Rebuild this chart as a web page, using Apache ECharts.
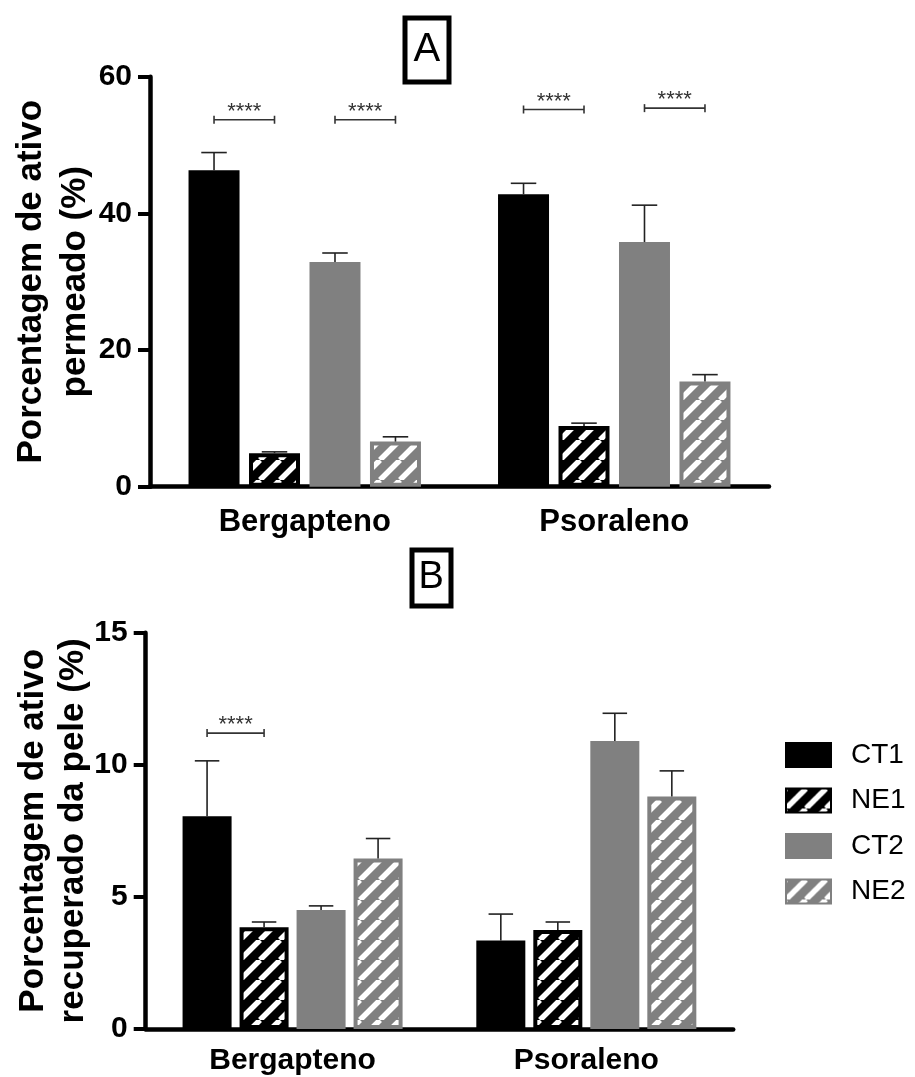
<!DOCTYPE html>
<html><head><meta charset="utf-8">
<script src="https://cdn.jsdelivr.net/npm/echarts@6/dist/echarts.min.js"></script>
<style>html,body{margin:0;padding:0;background:#fff}#c{width:915px;height:1077px}</style>
</head><body><div id="c"></div>
<script>
// ---------- data ----------
const categories = ['Bergapteno', 'Psoraleno'];
const groups = ['CT1', 'NE1', 'CT2', 'NE2'];

// Panel A: Porcentagem de ativo permeado (%)
const A_CT1 = [46.3, 42.8];
const A_NE1 = [4.9, 8.9];
const A_CT2 = [32.9, 35.8];
const A_NE2 = [6.6, 15.4];
const A_CT1_err = [2.6, 1.6];
const A_NE1_err = [0.2, 0.4];
const A_CT2_err = [1.3, 5.4];
const A_NE2_err = [0.7, 1.0];

// Panel B: Porcentagem de ativo recuperado da pele (%)
const B_CT1 = [8.05, 3.35];
const B_NE1 = [3.85, 3.75];
const B_CT2 = [4.5, 10.9];
const B_NE2 = [6.45, 8.8];
const B_CT1_err = [2.1, 1.0];
const B_NE1_err = [0.2, 0.3];
const B_CT2_err = [0.16, 1.05];
const B_NE2_err = [0.76, 0.97];

// significance brackets: [category index, from group, to group, y value]
const sigA = [[0, 0, 1, 53.7], [0, 2, 3, 53.7], [1, 0, 1, 55.2], [1, 2, 3, 55.4]];
const sigB = [[0, 0, 1, 11.2]];
const sigText = '****';

const yTitleA = 'Porcentagem de ativo\npermeado (%)';
const yTitleB = 'Porcentagem de ativo\nrecuperado da pele (%)';
const panelLabels = ['A', 'B'];

// ---------- styles ----------
const FONT = '"Liberation Sans", Arial, sans-serif';
const BLACK = '#000000', GRAY = '#808080';
const BORDER = 4;
function hatch(bg) {
  const c = document.createElement('canvas');
  c.width = 20; c.height = 20;
  const ctx = c.getContext('2d');
  ctx.fillStyle = bg; ctx.fillRect(0, 0, 20, 20);
  ctx.strokeStyle = '#ffffff'; ctx.lineWidth = 5.5;
  ctx.beginPath();
  for (let x0 = -20; x0 <= 20; x0 += 20) { ctx.moveTo(x0, 20); ctx.lineTo(x0 + 20, 0); }
  ctx.stroke();
  return { image: c, repeat: 'repeat' };
}
const fills = [BLACK, hatch(BLACK), GRAY, hatch(GRAY)];
const borders = [BLACK, BLACK, GRAY, GRAY];

const layoutA = { catGap: 0.249, barGap: 0.186 };
const layoutB = { catGap: 0.251, barGap: 0.163 };

function barOffset(band, cfg, i) {
  const avail = band * (1 - cfg.catGap);
  const bw = avail / (4 + 3 * cfg.barGap);
  return { off: -avail / 2 + i * bw * (1 + cfg.barGap) + bw / 2, bw: bw };
}

function errRender(cfg) {
  return function (params, api) {
    const cat = api.value(0), si = api.value(1), mean = api.value(2), err = api.value(3);
    const band = api.size([1, 0])[0];
    const b = barOffset(band, cfg, si);
    const p0 = api.coord([cat, mean]);
    const p1 = api.coord([cat, mean + err]);
    const x = p0[0] + b.off;
    const cap = b.bw / 2;
    const st = { stroke: '#222', lineWidth: 1.6 };
    return { type: 'group', children: [
      { type: 'line', shape: { x1: x, y1: p0[1], x2: x, y2: p1[1] }, style: st },
      { type: 'line', shape: { x1: x - cap / 2, y1: p1[1], x2: x + cap / 2, y2: p1[1] }, style: st }
    ] };
  };
}
function sigRender(cfg) {
  return function (params, api) {
    const cat = api.value(0), from = api.value(1), to = api.value(2), y = api.value(3);
    const band = api.size([1, 0])[0];
    const p = api.coord([cat, y]);
    const x1 = p[0] + barOffset(band, cfg, from).off;
    const x2 = p[0] + barOffset(band, cfg, to).off;
    const st = { stroke: '#333', lineWidth: 1.6 };
    return { type: 'group', children: [
      { type: 'line', shape: { x1: x1, y1: p[1], x2: x2, y2: p[1] }, style: st },
      { type: 'line', shape: { x1: x1, y1: p[1] - 4, x2: x1, y2: p[1] + 4 }, style: st },
      { type: 'line', shape: { x1: x2, y1: p[1] - 4, x2: x2, y2: p[1] + 4 }, style: st },
      { type: 'text', x: (x1 + x2) / 2, y: p[1] + 3, style: { text: sigText, align: 'center', verticalAlign: 'bottom', fontSize: 22, fill: '#333', fontFamily: FONT } }
    ] };
  };
}

function errData(lists) {
  const out = [];
  lists.forEach(function (l, si) { l[0].forEach(function (v, ci) { out.push([ci, si, v, l[1][ci]]); }); });
  return out;
}

const axisLine = { lineStyle: { color: '#000', width: 4.5 } };
function xAxis(gi, fs, margin) {
  return { type: 'category', gridIndex: gi, data: categories, axisLine: axisLine,
    axisTick: { alignWithLabel: true, length: 9, lineStyle: { color: '#000', width: 4 } },
    axisLabel: { fontSize: fs, fontWeight: 'bold', color: '#000', fontFamily: FONT, margin: margin } };
}
function yAxis(gi, max, interval, name, gap, lh) {
  return { type: 'value', gridIndex: gi, min: 0, max: max, interval: interval,
    name: name, nameLocation: 'middle', nameRotate: 90, nameGap: gap, nameMoveOverlap: false,
    nameTextStyle: { fontSize: 35, fontWeight: 'bold', color: '#000', fontFamily: FONT, lineHeight: lh },
    axisLine: { show: true, lineStyle: { color: '#000', width: 4.5 } },
    axisTick: { show: true, length: 12, lineStyle: { color: '#000', width: 4 } },
    splitLine: { show: false },
    axisLabel: { fontSize: 30, fontWeight: 'bold', color: '#000', fontFamily: FONT, margin: 18 } };
}

const seriesA = [A_CT1, A_NE1, A_CT2, A_NE2];
const seriesB = [B_CT1, B_NE1, B_CT2, B_NE2];
const errA = [A_CT1_err, A_NE1_err, A_CT2_err, A_NE2_err];
const errB = [B_CT1_err, B_NE1_err, B_CT2_err, B_NE2_err];

const series = [];
[[seriesA, 0, layoutA], [seriesB, 1, layoutB]].forEach(function (d) {
  d[0].forEach(function (vals, i) {
    series.push({ type: 'bar', name: groups[i], xAxisIndex: d[1], yAxisIndex: d[1], data: vals,
      barCategoryGap: (d[2].catGap * 100) + '%', barGap: (d[2].barGap * 100) + '%',
      itemStyle: { color: fills[i], borderColor: borders[i], borderWidth: BORDER },
      emphasis: { disabled: true }, animation: false });
  });
});
series.push({ type: 'custom', xAxisIndex: 0, yAxisIndex: 0, renderItem: errRender(layoutA), clip: false,
  data: errData(seriesA.map(function (s, i) { return [s, errA[i]]; })), encode: { x: 0, y: 2 }, z: 5, animation: false });
series.push({ type: 'custom', xAxisIndex: 1, yAxisIndex: 1, renderItem: errRender(layoutB), clip: false,
  data: errData(seriesB.map(function (s, i) { return [s, errB[i]]; })), encode: { x: 0, y: 2 }, z: 5, animation: false });
series.push({ type: 'custom', xAxisIndex: 0, yAxisIndex: 0, renderItem: sigRender(layoutA), clip: false,
  data: sigA, encode: { x: 0, y: 3 }, z: 5, animation: false });
series.push({ type: 'custom', xAxisIndex: 1, yAxisIndex: 1, renderItem: sigRender(layoutB), clip: false,
  data: sigB, encode: { x: 0, y: 3 }, z: 5, animation: false });

const chart = echarts.init(document.getElementById('c'), null, { renderer: 'canvas' });
chart.setOption({
  backgroundColor: '#fff',
  animation: false,
  title: [
    { text: panelLabels[0], left: 404.5, top: 17.5, padding: [12, 9, 13, 9], borderColor: '#000', borderWidth: 5,
      textStyle: { fontSize: 40, fontWeight: 'normal', color: '#000', fontFamily: FONT, lineHeight: 40 } },
    { text: panelLabels[1], left: 411.5, top: 549.5, padding: [9, 7, 10, 7], borderColor: '#000', borderWidth: 5,
      textStyle: { fontSize: 38, fontWeight: 'normal', color: '#000', fontFamily: FONT, lineHeight: 38 } }
  ],
  legend: { data: groups, orient: 'vertical', left: 785, top: 741, padding: 0, itemWidth: 45, itemHeight: 24, itemGap: 17.5,
    icon: 'rect', selectedMode: false,
    textStyle: { fontSize: 28, color: '#000', fontFamily: FONT, padding: [0, 0, 0, 15] } },
  grid: [
    { left: 150, top: 76.7, width: 619, height: 410 },
    { left: 145.7, top: 632.7, width: 587.5, height: 396.3 }
  ],
  xAxis: [xAxis(0, 31, 20), xAxis(1, 30, 17)],
  yAxis: [yAxis(0, 60, 20, yTitleA, 52.5, 44), yAxis(1, 15, 5, yTitleB, 52, 40)],
  series: series
});
</script></body></html>
